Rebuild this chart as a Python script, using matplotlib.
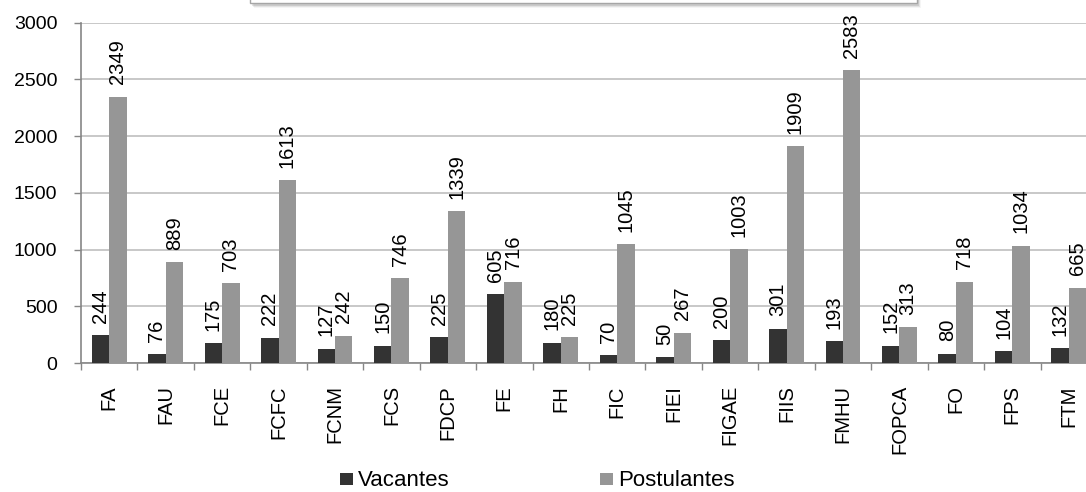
import matplotlib
matplotlib.use("Agg")
import matplotlib.pyplot as plt
from matplotlib.patches import Rectangle
import numpy as np

plt.rcParams['font.family'] = ['Liberation Sans', 'DejaVu Sans']

categories = ["FA", "FAU", "FCE", "FCFC", "FCNM", "FCS", "FDCP", "FE", "FH",
              "FIC", "FIEI", "FIGAE", "FIIS", "FMHU", "FOPCA", "FO", "FPS", "FTM"]
vacantes = [244, 76, 175, 222, 127, 150, 225, 605, 180, 70, 50, 200, 301, 193, 152, 80, 104, 132]
postulantes = [2349, 889, 703, 1613, 242, 746, 1339, 716, 225, 1045, 267, 1003, 1909, 2583, 313, 718, 1034, 665]
series_names = ["Vacantes", "Postulantes"]
yticks = [0, 500, 1000, 1500, 2000, 2500, 3000]

W, H = 1086, 492
fig = plt.figure(figsize=(W / 100, H / 100), dpi=100)
fig.patch.set_facecolor("white")

ax = fig.add_axes([81 / W, (H - 363) / H, (1097 - 81) / W, (363 - 22.7) / H])
ax.set_facecolor("white")

dark = "#333333"
light = "#969696"
x = np.arange(len(categories))
bw = 0.31
b1 = ax.bar(x - bw / 2, vacantes, bw, color=dark, zorder=3)
b2 = ax.bar(x + bw / 2, postulantes, bw, color=light, zorder=3)

for rects, vals in ((b1, vacantes), (b2, postulantes)):
    for r, v in zip(rects, vals):
        ax.annotate(str(v), (r.get_x() + r.get_width() / 2, r.get_height()),
                    xytext=(0, 9), textcoords="offset points",
                    rotation=90, ha="center", va="bottom", fontsize=14.5,
                    color="black", zorder=4, annotation_clip=False)

ax.set_ylim(0, 3000)
ax.set_xlim(-0.5, len(categories) - 0.5)
ax.set_yticks(yticks)
ax.set_yticklabels([str(t) for t in yticks], fontsize=14)
ax.yaxis.grid(True, color="#bfbfbf", linewidth=1.2, zorder=0)
ax.set_axisbelow(True)

# category ticks at boundaries, labels centered
ax.set_xticks(np.arange(-0.5, len(categories), 1.0))
ax.set_xticklabels([])
ax.set_xticks(x, minor=True)
ax.set_xticklabels(categories, minor=True, rotation=90, fontsize=14.5, va="top", ha="center")
ax.tick_params(axis="x", which="minor", length=0, pad=16)
ax.tick_params(axis="x", which="major", length=5, color="#868686", width=1)
ax.tick_params(axis="y", length=5, color="#868686", width=1, pad=12)

for s in ["top", "right"]:
    ax.spines[s].set_visible(False)
for s in ["left", "bottom"]:
    ax.spines[s].set_color("#868686")
    ax.spines[s].set_linewidth(1.2)

# title box (cut off at top) with shadow
for i, a in enumerate([0.10, 0.07, 0.04]):
    fig.add_artist(Rectangle(((252 + i) / W, (H - 6 - i) / H), (667) / W, 12 / H,
                             transform=fig.transFigure, facecolor="black", alpha=a,
                             edgecolor="none", zorder=1))
fig.add_artist(Rectangle((250 / W, (H - 3) / H), 667 / W, 10 / H,
                         transform=fig.transFigure, facecolor="white",
                         edgecolor="#a6a6a6", linewidth=1, zorder=2))

# legend
leg_items = [(340, dark, series_names[0]), (600, light, series_names[1])]
for px, col, name in leg_items:
    fig.add_artist(Rectangle((px / W, (H - 485) / H), 12.5 / W, 12.5 / H,
                             transform=fig.transFigure, facecolor=col, edgecolor="none"))
    fig.text((px + 18) / W, (H - 486) / H, name, fontsize=16,
             ha="left", va="baseline", color="black")

fig.savefig("out.png", dpi=100, facecolor="white")
